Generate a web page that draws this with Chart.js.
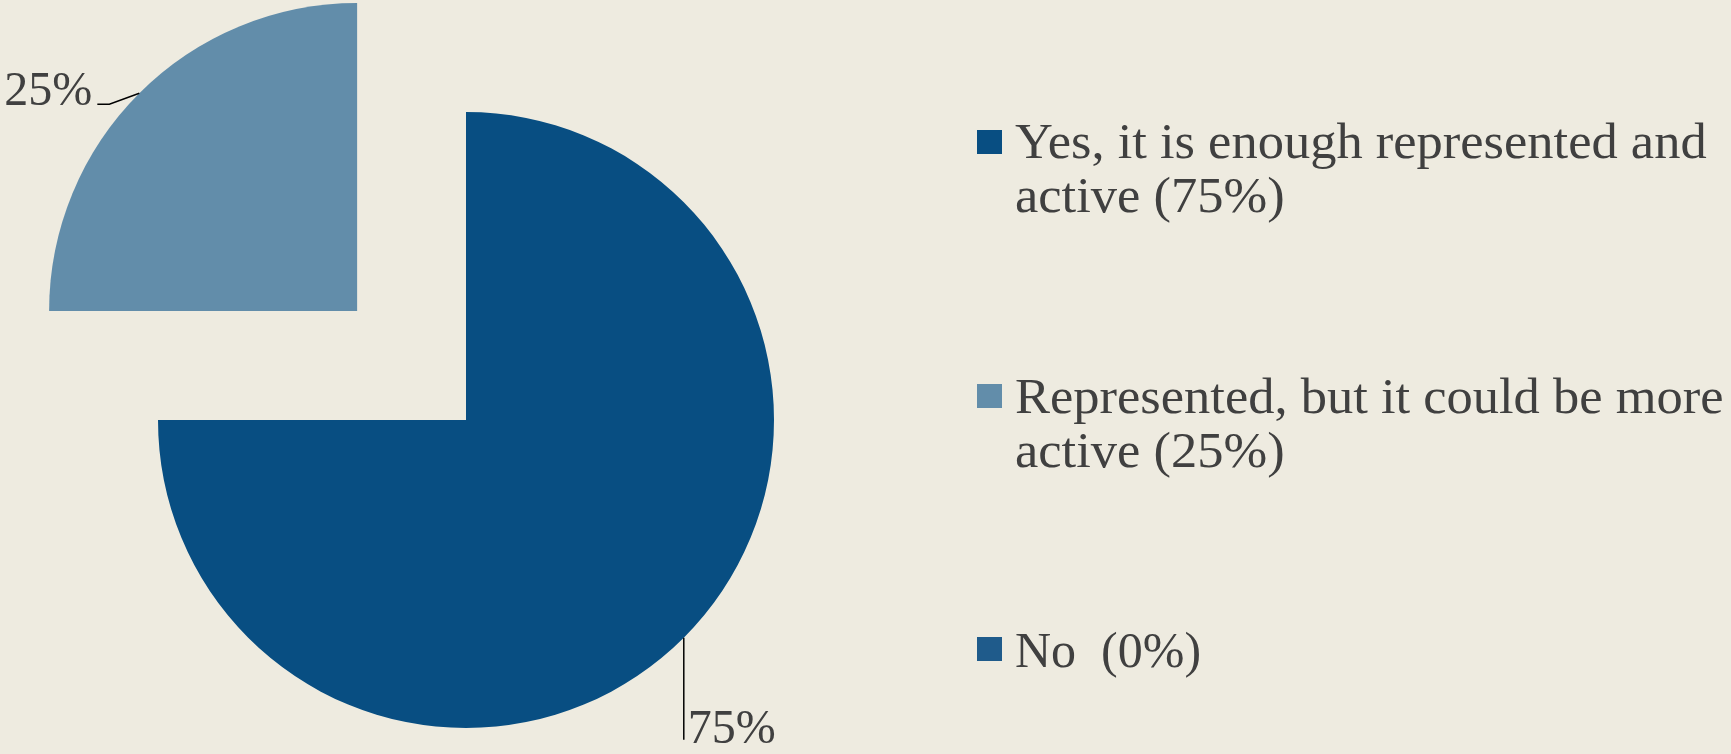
<!DOCTYPE html>
<html>
<head>
<meta charset="utf-8">
<script src="https://cdn.jsdelivr.net/npm/chart.js@4/dist/chart.umd.min.js"></script>
<style>
  html, body { margin: 0; padding: 0; background: #eeebe0; }
  #pie { display: block; }
</style>
</head>
<body>
<canvas id="pie" width="1731" height="754"></canvas>
<script>
const labels = ["Yes, it is enough represented and active", "Represented, but it could be more active", "No "];
const values = [75, 25, 0];
const colors = ["#084e82", "#628daa", "#1f5b8b"];

const textColor = "#404040";
const serif = "'Liberation Serif', 'DejaVu Serif', serif";

// leader lines + percent labels next to each slice
const sliceLabels = {
    id: "sliceLabels",
    afterDatasetsDraw(chart) {
        const ctx = chart.ctx;
        const arcs = chart.getDatasetMeta(0).data;
        ctx.save();
        ctx.font = "48px " + serif;
        ctx.fillStyle = textColor;
        ctx.strokeStyle = "#000";
        ctx.lineWidth = 1.5;
        arcs.forEach((arc, i) => {
            if (!values[i]) return;
            const p = arc.getProps(["x", "y", "startAngle", "endAngle", "outerRadius"], true);
            const mid = (p.startAngle + p.endAngle) / 2;
            // chart.js moves an exploded arc by offset / 4
            const r = p.outerRadius + (arc.options.offset || 0) / 4;
            const ex = p.x + Math.cos(mid) * r;
            const ey = p.y + Math.sin(mid) * r;
            const txt = values[i] + "%";
            ctx.beginPath();
            ctx.moveTo(ex, ey);
            if (Math.cos(mid) < 0) {
                ctx.lineTo(ex - 30, ey + 11);
                ctx.lineTo(ex - 42, ey + 11);
                ctx.stroke();
                ctx.textAlign = "right";
                ctx.fillText(txt, ex - 47, ey + 12);
            } else {
                ctx.lineTo(ex, ey + 102);
                ctx.stroke();
                ctx.textAlign = "left";
                ctx.fillText(txt, ex + 4, ey + 105);
            }
        });
        ctx.restore();
    }
};

// legend on the right
const sideLegend = {
    id: "sideLegend",
    afterDraw(chart) {
        const ctx = chart.ctx;
        const tops = [130, 384, 637];
        const baselines = [158, 413, 667];
        const stretch = [1.05, 1.05, 1];
        ctx.save();
        ctx.font = "50px " + serif;
        ctx.textAlign = "left";
        labels.forEach((lab, i) => {
            ctx.fillStyle = colors[i];
            ctx.fillRect(977, tops[i], 25, 24);
            const text = lab + " (" + values[i] + "%)";
            const words = text.split(" ");
            const lines = [];
            let cur = "";
            const maxW = 760 / stretch[i];
            words.forEach(w => {
                const test = cur === "" ? w : cur + " " + w;
                if (ctx.measureText(test).width > maxW && cur !== "") {
                    lines.push(cur);
                    cur = w;
                } else {
                    cur = test;
                }
            });
            lines.push(cur);
            ctx.fillStyle = textColor;
            lines.forEach((ln, j) => {
                ctx.save();
                ctx.translate(1015, baselines[i] + j * 54);
                ctx.scale(stretch[i], 1);
                ctx.fillText(ln, 0, 0);
                ctx.restore();
            });
        });
        ctx.restore();
    }
};

new Chart(document.getElementById("pie"), {
    type: "pie",
    data: {
        labels: labels,
        datasets: [{
            data: values,
            backgroundColor: colors,
            borderWidth: 0,
            offset: [0, 616, 0],
        }],
    },
    options: {
        responsive: false,
        animation: false,
        radius: 308,
        layout: { padding: { left: 0, right: 799, top: 86, bottom: 0 } },
        plugins: {
            legend: { display: false },
            tooltip: { enabled: false },
        },
    },
    plugins: [sliceLabels, sideLegend],
});
</script>
</body>
</html>
